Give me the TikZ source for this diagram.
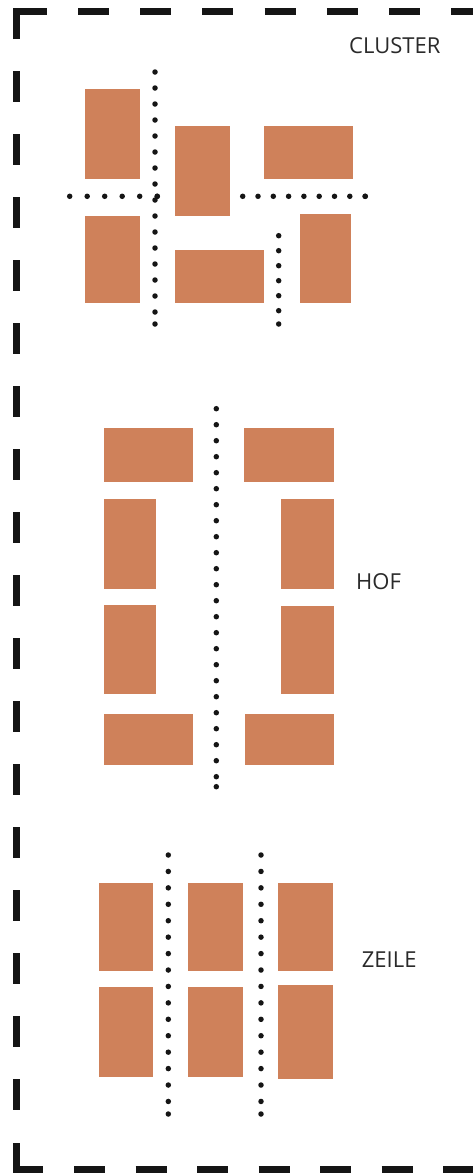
\documentclass[tikz,border=0pt]{standalone}
\usepackage{fontspec}
\setmainfont{Open Sans}
\definecolor{brick}{RGB}{207,129,90}
\definecolor{framec}{RGB}{21,21,21}
\definecolor{labelc}{RGB}{42,42,42}
\tikzset{
  block/.style={fill=brick},
  framesolid/.style={draw=framec,line width=7.5pt,line join=miter,line cap=butt},
  framedash/.style={draw=framec,line width=7.5pt,line cap=butt,dash pattern=on 31pt off #1},
  dotrow/.style={draw=framec,line width=5.5pt,line cap=round,dash pattern=on 0pt off #1},
  enddot/.style={fill=framec},
  lbl/.style={text=labelc,font=\fontsize{22}{26}\selectfont,inner sep=0pt,anchor=base west}
}
\begin{document}
\begin{tikzpicture}[x=1pt,y=-1pt]
\useasboundingbox (0,0) rectangle (472,1173);
% frame
\draw[framesolid] (16.5,39) -- (16.5,11.5) -- (46.5,11.5);
\draw[framedash=31.2pt] (78,11.5) -- (480,11.5);
\draw[framedash=32pt] (16.5,71) -- (16.5,1140);
\draw[framesolid] (16.5,1143) -- (16.5,1169.5) -- (43,1169.5);
\draw[framedash=30.5pt] (74,1169.5) -- (480,1169.5);
% CLUSTER
\fill[block] (85,89) rectangle (140,179);
\fill[block] (175,126) rectangle (230,216);
\fill[block] (264,126) rectangle (353,179);
\fill[block] (85,216) rectangle (140,303);
\fill[block] (175,250) rectangle (264,303);
\fill[block] (300,214) rectangle (351,303);
\draw[dotrow=16pt] (155,72) -- (155,324);
\fill[enddot] (155,324) circle (2.75);
\draw[dotrow=17.5pt] (69.7,196.3) -- (157.3,196.3);
\fill[enddot] (157.3,196.3) circle (2.75);
\draw[dotrow=15.3pt] (242.7,196.3) -- (365.3,196.3);
\fill[enddot] (365.3,196.3) circle (2.75);
\draw[dotrow=15pt] (278.7,235.7) -- (278.7,324);
\fill[enddot] (278.7,324) circle (2.75);
\node[lbl] (cluster) at (349,53.3) {CLUSTER};
% HOF
\fill[block] (104,428) rectangle (193,482);
\fill[block] (244,428) rectangle (334,482);
\fill[block] (104,499) rectangle (156,589);
\fill[block] (281,499) rectangle (334,589);
\fill[block] (104,605) rectangle (156,694);
\fill[block] (281,606) rectangle (334,694);
\fill[block] (104,714) rectangle (193,765);
\fill[block] (245,714) rectangle (334,765);
\draw[dotrow=16pt] (216.3,408.7) -- (216.3,786.7);
\fill[enddot] (216.3,786.7) circle (2.75);
\node[lbl] (hof) at (356,589.3) {HOF};
% ZEILE
\fill[block] (99,883) rectangle (152.7,971.3);
\fill[block] (188,883) rectangle (242.7,971.3);
\fill[block] (278,883) rectangle (333,971.3);
\fill[block] (99,987) rectangle (152.7,1077);
\fill[block] (188,987) rectangle (242.7,1077);
\fill[block] (278,984.7) rectangle (332.7,1079.3);
\draw[dotrow=16.43pt] (168.3,855) -- (168.3,1114);
\fill[enddot] (168.3,1114) circle (2.75);
\draw[dotrow=16.43pt] (261,855) -- (261,1114);
\fill[enddot] (261,1114) circle (2.75);
\node[lbl] (zeile) at (361.7,967.7) {ZEILE};
\end{tikzpicture}
\end{document}
